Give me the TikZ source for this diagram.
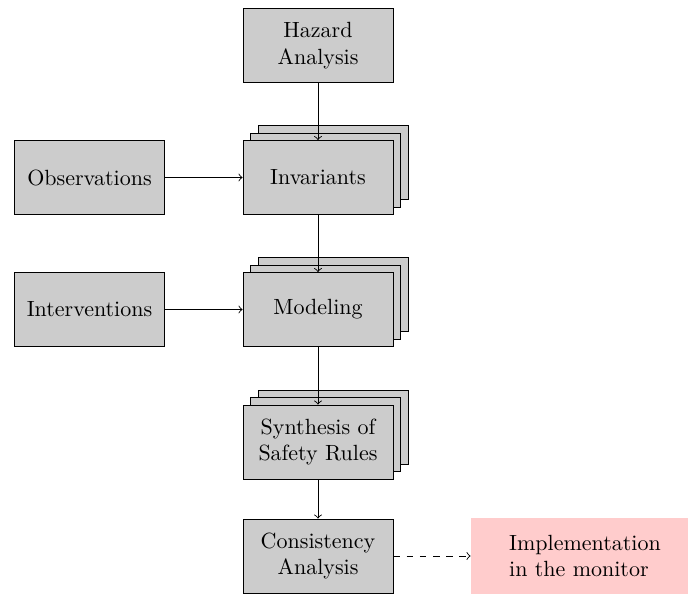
\documentclass[tikz,border=0pt]{standalone}
\usetikzlibrary{arrows}
\begin{document}
\begin{tikzpicture}[x=0.4545pt,y=-0.4545pt,
  box/.style={draw=black, fill=black!20, minimum width=68.2pt, minimum height=33.6pt, align=center, inner sep=2pt},
  outbox/.style={fill=red!20, minimum width=103.6pt, minimum height=34.5pt, align=left, inner sep=2pt},
  conn/.style={->},
  dconn/.style={->, dashed}]
\useasboundingbox (0,0) rectangle (688,594);
% Hazard
\node[box] (haz) at (318,45.5) {Hazard\\Analysis};
% Invariants stack
\node[box] (inv3) at (333.5,162.5) {};
\node[box] (inv2) at (325.75,170) {};
\node[box] (inv) at (318,177.5) {Invariants};
\node[box] (obs) at (89.5,177.5) {Observations};
% Modeling stack
\node[box] (mod3) at (333.5,294.5) {};
\node[box] (mod2) at (325.75,302) {};
\node[box] (mod) at (318,309.5) {Modeling};
\node[box] (intv) at (89.5,309.5) {Interventions};
% Synthesis stack
\node[box] (syn3) at (333.5,427) {};
\node[box] (syn2) at (325.75,434.5) {};
\node[box] (syn) at (318,442) {Synthesis of\\Safety Rules};
% Consistency
\node[box] (con) at (318,556) {Consistency\\Analysis};
\node[outbox] (impl) at (585,556) {Implementation\\in the monitor};
% connectors
\draw[conn] (haz.south) -- (inv.north);
\draw[conn] (obs.east) -- (inv.west);
\draw[conn] (inv.south) -- (mod.north);
\draw[conn] (intv.east) -- (mod.west);
\draw[conn] (mod.south) -- (syn.north);
\draw[conn] (syn.south) -- (con.north);
\draw[dconn] (con.east) -- (impl.west);
\end{tikzpicture}
\end{document}
